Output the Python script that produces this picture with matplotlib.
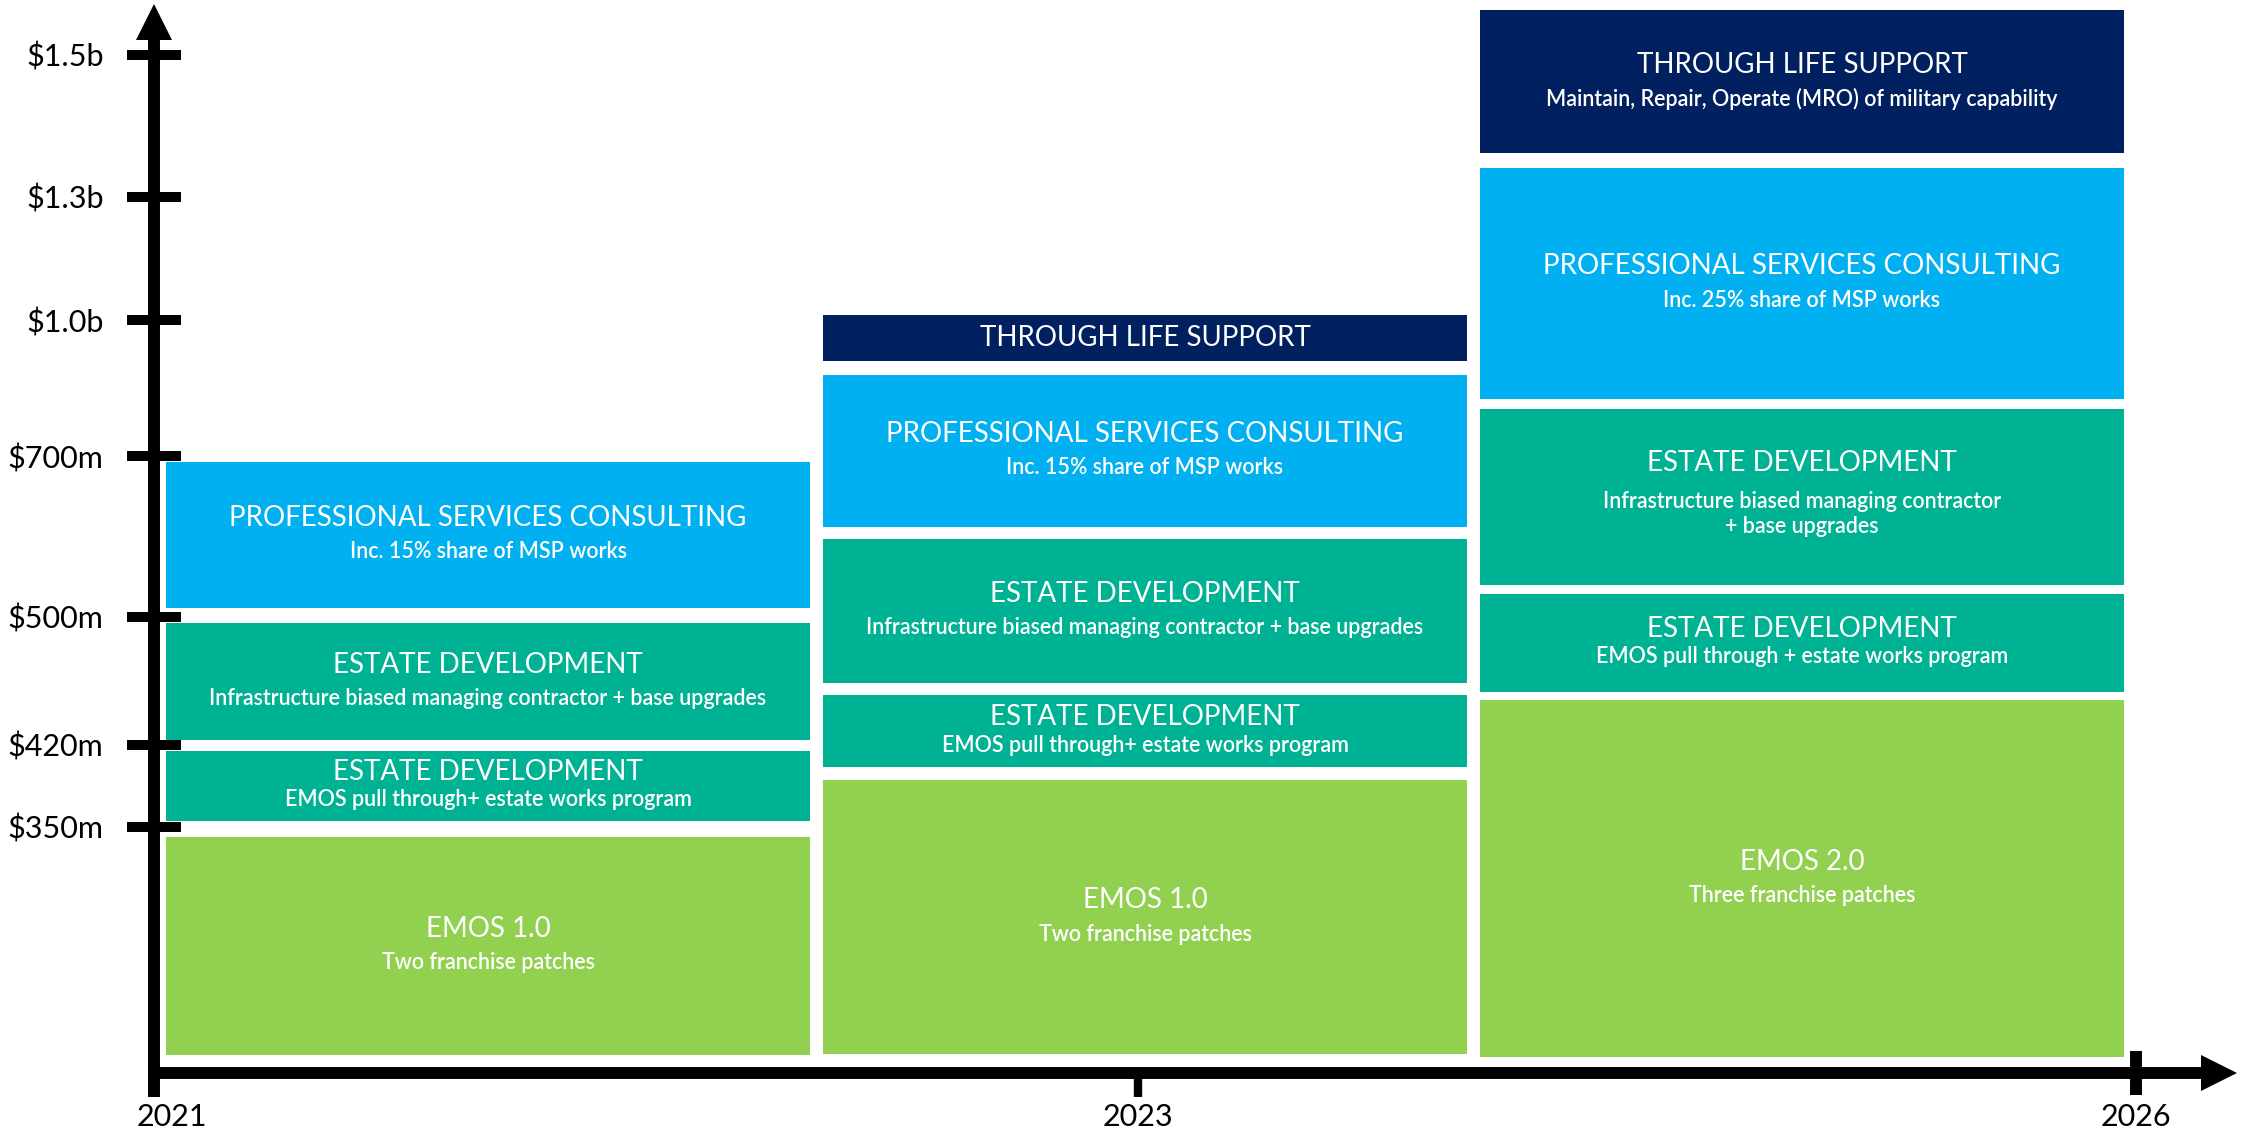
import numpy as np
import matplotlib.pyplot as plt
from matplotlib.transforms import ScaledTranslation

plt.rcParams['font.family'] = ['Lato', 'DejaVu Sans']

# ---- data ----
years = ['2021', '2023', '2026']
value_ticks = [350, 420, 500, 700, 1000, 1300, 1500]
value_labels = [r'\$350m', r'\$420m', r'\$500m', r'\$700m', r'\$1.0b', r'\$1.3b', r'\$1.5b']

# block extents per year ($m)
emos_lo = [26, 27, 23]
emos_hi = [336, 390, 448]
pull_lo = [355, 401, 453]
pull_hi = [415, 451, 529]
infra_lo = [423, 459, 540]
infra_hi = [496, 597, 804]
psc_lo = [511, 612, 826]
psc_hi = [693, 879, 1341]
tls_lo = [np.nan, 910, 1362]
tls_hi = [np.nan, 1012, 1563]

emos_title = ['EMOS 1.0', 'EMOS 1.0', 'EMOS 2.0']
emos_sub = ['Two franchise patches', 'Two franchise patches', 'Three franchise patches']
pull_title = ['ESTATE DEVELOPMENT'] * 3
pull_sub = ['EMOS pull through+ estate works program',
            'EMOS pull through+ estate works program',
            'EMOS pull through + estate works program']
infra_title = ['ESTATE DEVELOPMENT'] * 3
infra_sub = ['Infrastructure biased managing contractor + base upgrades',
             'Infrastructure biased managing contractor + base upgrades',
             'Infrastructure biased managing contractor\n+ base upgrades']
psc_title = ['PROFESSIONAL SERVICES CONSULTING'] * 3
psc_sub = ['Inc. 15% share of MSP works', 'Inc. 15% share of MSP works',
           'Inc. 25% share of MSP works']
tls_title = ['', 'THROUGH LIFE SUPPORT', 'THROUGH LIFE SUPPORT']
tls_sub = ['', '', 'Maintain, Repair, Operate (MRO) of military capability']

# ---- uneven value axis: visual height (px above baseline) of each tick ----
tick_heights = [246, 328, 456, 617, 753, 876, 1018]
anc_v = np.array([0] + value_ticks, float)
anc_h = np.array([0] + tick_heights, float)


def _pw(x, xs, ys):
    x = np.asarray(x, float)
    out = np.interp(x, xs, ys)
    s0 = (ys[1] - ys[0]) / (xs[1] - xs[0])
    s1 = (ys[-1] - ys[-2]) / (xs[-1] - xs[-2])
    out = np.where(x < xs[0], ys[0] + (x - xs[0]) * s0, out)
    out = np.where(x > xs[-1], ys[-1] + (x - xs[-1]) * s1, out)
    return out


def fwd(v):
    return _pw(v, anc_v, anc_h)


def inv(h):
    return _pw(h, anc_h, anc_v)


fig = plt.figure(figsize=(22.44, 11.32), dpi=100)
ax = fig.add_axes([0, 0, 1, 1])
ax.set_yscale('function', functions=(fwd, inv))
ax.set_xlim(-0.7428, 2.6728)
ax.set_ylim(float(inv(-59)), float(inv(1073)))

x = np.arange(len(years))
year_pos = [-0.508, 0.99, 2.508]

tiers = [
    (emos_lo, emos_hi, '#92D050', emos_title, emos_sub, 17),
    (pull_lo, pull_hi, '#00B294', pull_title, pull_sub, 14),
    (infra_lo, infra_hi, '#00B294', infra_title, infra_sub, 17),
    (psc_lo, psc_hi, '#00B0F0', psc_title, psc_sub, 17),
    (tls_lo, tls_hi, '#002060', tls_title, tls_sub, 17),
]

for lo, hi, color, titles, subs, half_gap in tiers:
    lo = np.array(lo, float)
    hi = np.array(hi, float)
    ok = ~np.isnan(lo)
    ax.bar(x[ok], (hi - lo)[ok], bottom=lo[ok], width=0.98, color=color, linewidth=0)
    for i in np.where(ok)[0]:
        mid = float(inv((fwd(lo[i]) + fwd(hi[i])) / 2))
        n_sub = subs[i].count('\n') + 1 if subs[i] else 0
        ax.annotate(titles[i], (x[i], mid), xytext=(0, half_gap * 0.72 * n_sub),
                    textcoords='offset points', ha='center', va='center',
                    fontsize=20, color='white')
        if subs[i]:
            ax.annotate(subs[i], (x[i], mid), xytext=(0, -half_gap * 0.72),
                        textcoords='offset points', ha='center', va='center',
                        fontsize=15.5, color='white', fontweight='semibold',
                        linespacing=1.25)

# axes drawn as thick arrows
for s in ['top', 'right']:
    ax.spines[s].set_visible(False)
ax.spines['left'].set_position(('data', year_pos[0]))
ax.spines['bottom'].set_position(('data', 0))
ax.spines['left'].set_bounds(0, float(inv(1033)))
ax.spines['bottom'].set_bounds(year_pos[0], 2.62)
ax.spines['left'].set_linewidth(8.6)
ax.spines['bottom'].set_linewidth(8.6)
ax.plot([year_pos[0]], [float(inv(1051))], marker='^', ms=26, mew=0, color='black', clip_on=False)
ax.plot([2.635], [0], marker='>', ms=26, mew=0, color='black', clip_on=False)

ax.set_yticks(value_ticks, value_labels)
ax.yaxis.set_minor_locator(plt.NullLocator())
ax.tick_params(axis='y', direction='inout', length=39, width=7.2, pad=17, labelsize=22)

ax.set_xticks(year_pos, years)
ax.tick_params(axis='x', direction='out', length=17.5, width=8.6, pad=4, labelsize=22)
xt = ax.xaxis.get_major_ticks()
xt[2].tick1line.set_marker('|')
xt[2].tick1line.set_markersize(32)
xt[1].tick1line.set_markeredgewidth(6)
lbl = xt[0].label1
lbl.set_transform(lbl.get_transform() + ScaledTranslation(0.18, 0, fig.dpi_scale_trans))

fig.savefig('out.png', dpi=100)
